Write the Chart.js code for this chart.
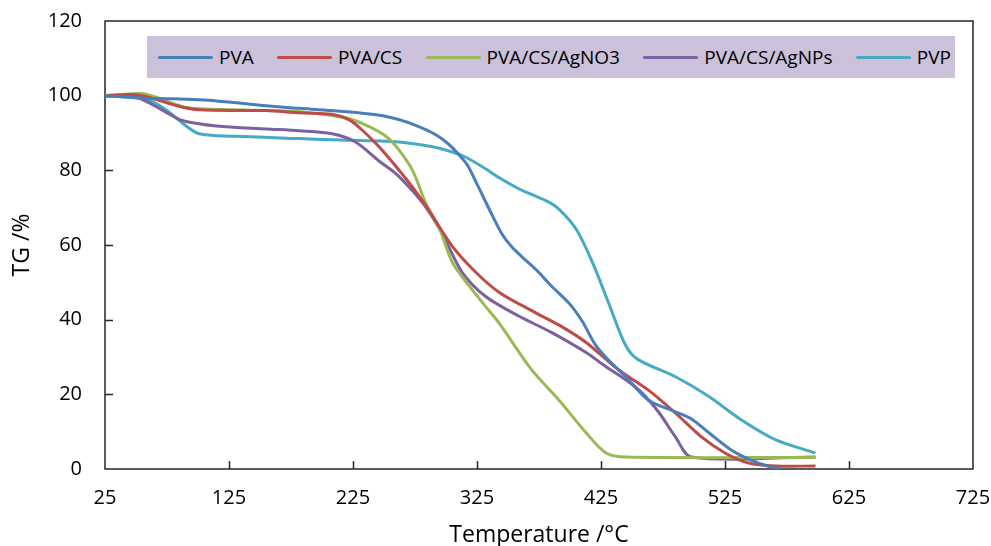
<!DOCTYPE html>
<html>
<head>
<meta charset="utf-8">
<script src="https://cdn.jsdelivr.net/npm/chart.js@4.4.1/dist/chart.umd.min.js"></script>
<style>
    html, body { margin: 0; padding: 0; background: #fff; }
    #wrap { position: relative; width: 991px; height: 546px; }
    #legend {
        position: absolute; left: 147px; top: 36px; width: 808px; height: 42px;
        background: #ccc1da; box-sizing: border-box; padding: 0 4px 0 11px;
        display: flex; align-items: center; justify-content: space-between;
        font-family: 'Open Sans', sans-serif; font-size: 19px; color: #000;
    }
    .item { display: flex; align-items: center; }
    .swatch { width: 55px; height: 3px; margin-right: 6px; border-radius: 2px; }
</style>
</head>
<body>
<div id="wrap">
    <canvas id="tg" width="991" height="546"></canvas>
    <div id="legend"></div>
</div>
<script>
// Valores (temperatura em °C, TG em %)
const pvaTemp = [25, 57, 75, 115, 155, 182, 208, 249, 276, 297, 316, 325, 335, 345, 353, 363, 373, 385, 399, 410, 420, 430, 445, 463, 485, 498, 512, 530, 546, 562, 570];
const pvaTG = [100, 99.3, 99.2, 98.6, 97.3, 96.6, 96, 94.6, 92, 88.4, 82, 76.3, 69.5, 63, 59.5, 56.3, 53.3, 49, 44.5, 39.5, 33.5, 29.5, 24.7, 18.5, 15.3, 13.4, 9.7, 5.1, 2.4, 0.5, 0];

const pvaCsTemp = [25, 47, 61, 83, 101, 155, 182, 208, 222, 233, 246, 260, 273, 284, 305, 324, 343, 372, 393, 413, 439, 463, 485, 506, 525, 544, 566, 598];
const pvaCsTG = [100, 100.3, 99.5, 97.3, 96.2, 96, 95.4, 95, 93.5, 90.6, 86.3, 80.9, 75.5, 70.4, 59.7, 52.7, 47.3, 41.9, 38.2, 33.9, 26.6, 21.2, 15, 8.6, 4.3, 1.6, 0.8, 0.8];

const agno3Temp = [25, 48, 56, 67, 88, 101, 155, 182, 220, 238, 252, 262, 273, 284, 295, 305, 319, 332, 343, 369, 391, 413, 429, 445, 598];
const agno3TG = [100, 100.5, 100.5, 99.5, 97, 96.5, 96, 95.7, 94, 91.7, 89, 85.5, 80, 71, 64.2, 55.4, 48.9, 43.5, 39, 26.6, 18.5, 9.7, 4.3, 3.2, 3.1];

const agnpsTemp = [25, 50, 65, 75, 88, 115, 155, 182, 208, 227, 246, 260, 273, 284, 295, 300, 313, 332, 359, 385, 413, 429, 445, 458, 472, 485, 498, 598];
const agnpsTG = [100, 99.6, 97.3, 95.4, 93.3, 91.9, 91.1, 90.6, 89.8, 87.6, 82.5, 79, 74.5, 70, 64.2, 61, 52.7, 46.2, 40.9, 36.6, 31.2, 27.4, 23.9, 20.4, 15, 8.6, 3.2, 3.2];

const pvpTemp = [25, 47, 61, 75, 88, 101, 142, 182, 208, 262, 289, 305, 316, 332, 343, 359, 381, 391, 405, 418, 431, 445, 455, 485, 512, 538, 566, 598];
const pvpTG = [100, 99.5, 98.7, 96, 92.5, 89.8, 89, 88.5, 88.2, 87.6, 86.3, 84.9, 83.5, 80.4, 78, 75, 71.8, 69.6, 64.2, 55.4, 44.6, 33, 29.3, 24.7, 19.4, 13.2, 7.8, 4.3];

const seriesNames = ['PVA', 'PVA/CS', 'PVA/CS/AgNO3', 'PVA/CS/AgNPs', 'PVP'];
const seriesColors = ['#4a7ebb', '#be4b48', '#98b954', '#7d60a0', '#46aac5'];
const xTicks = [25, 125, 225, 325, 425, 525, 625, 725];
const yTicks = [0, 20, 40, 60, 80, 100, 120];

const temps = [pvaTemp, pvaCsTemp, agno3Temp, agnpsTemp, pvpTemp];
const values = [pvaTG, pvaCsTG, agno3TG, agnpsTG, pvpTG];

const axisFont = { family: "'Open Sans', sans-serif", size: 20 };
const titleFont = { family: "'Open Sans', sans-serif", size: 23 };

// Moldura do gráfico e marcas de escala para dentro
const framePlugin = {
    id: 'frame',
    beforeDatasetsDraw(chart) {
        const { ctx, chartArea: a, scales: { x, y } } = chart;
        ctx.save();
        ctx.strokeStyle = '#262626';
        ctx.lineWidth = 1.5;
        ctx.strokeRect(a.left, a.top, a.right - a.left, a.bottom - a.top);
        ctx.beginPath();
        yTicks.slice(1, -1).forEach(v => {
            const py = Math.round(y.getPixelForValue(v)) + 0.5;
            ctx.moveTo(a.left, py);
            ctx.lineTo(a.left + 8, py);
        });
        xTicks.slice(1, -1).forEach(v => {
            const px = Math.round(x.getPixelForValue(v)) + 0.5;
            ctx.moveTo(px, a.bottom);
            ctx.lineTo(px, a.bottom - 8);
        });
        ctx.stroke();
        ctx.restore();
    }
};

const datasets = seriesNames.map((name, i) => ({
    label: name,
    data: temps[i].map((t, j) => ({ x: t, y: values[i][j] })),
    borderColor: seriesColors[i],
    borderWidth: 3,
    pointRadius: 0,
    tension: 0.3,
    fill: false,
}));

new Chart(document.getElementById('tg'), {
    type: 'line',
    data: { datasets },
    options: {
        responsive: false,
        animation: false,
        layout: { padding: { top: 21, right: 18, left: 0, bottom: 0 } },
        plugins: { legend: { display: false }, tooltip: { enabled: false } },
        scales: {
            x: {
                type: 'linear', min: 25, max: 725,
                afterBuildTicks: s => { s.ticks = xTicks.map(v => ({ value: v })); },
                afterFit: s => { s.height = 77; s.paddingLeft = 0; s.paddingRight = 0; },
                grid: { display: false, drawTicks: false },
                border: { display: false },
                ticks: { padding: 17, font: axisFont, color: '#000', maxRotation: 0, autoSkip: false },
                title: { display: true, text: 'Temperature /°C', font: titleFont, color: '#000', padding: { top: 0, bottom: -3 } }
            },
            y: {
                min: 0, max: 120,
                afterBuildTicks: s => { s.ticks = yTicks.map(v => ({ value: v })); },
                afterFit: s => { s.width = 105; s.paddingTop = 0; s.paddingBottom = 0; },
                grid: { display: false, drawTicks: false },
                border: { display: false },
                ticks: { padding: 23, font: axisFont, color: '#000' },
                title: { display: true, text: 'TG /%', font: titleFont, color: '#000', padding: { top: 9, bottom: 0 } }
            }
        }
    },
    plugins: [framePlugin]
});

// Legenda em HTML, dentro da área do gráfico
document.getElementById('legend').innerHTML = seriesNames.map((name, i) => `
    <div class="item"><span class="swatch" style="background:${seriesColors[i]}"></span>${name}</div>
`).join('');
</script>
</body>
</html>
